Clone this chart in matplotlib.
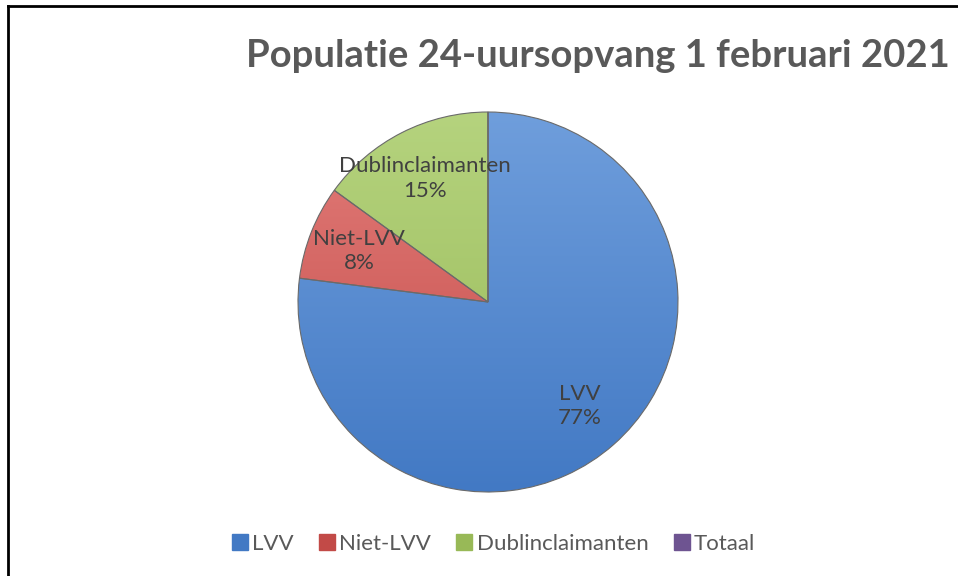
import numpy as np
import matplotlib.pyplot as plt
from matplotlib.colors import LinearSegmentedColormap
from matplotlib.lines import Line2D

# data
categories = ['LVV', 'Niet-LVV', 'Dublinclaimanten', 'Totaal']
shares = [77, 8, 15, 0]
top_colors = ['#6F9EDC', '#E37D7A', '#B5D37E', '#9A80BE']
bottom_colors = ['#4279C4', '#C24A47', '#98B957', '#6E5491']
title = 'Populatie 24-uursopvang 1 februari 2021'

plt.rcParams['font.family'] = ['Lato', 'DejaVu Sans']

fig = plt.figure(figsize=(9.58, 5.76), dpi=100)
ax = fig.add_axes([0, 0, 1, 1])
ax.set_xlim(0, 958)
ax.set_ylim(0, 576)
ax.set_aspect('equal')
ax.axis('off')

cx, cy, r = 488, 274, 190


def fmt(p):
    return '' if p < 0.5 else '%.0f%%' % p


wedges, texts, autotexts = ax.pie(
    shares, center=(cx, cy), radius=r, startangle=90, counterclock=False,
    colors=bottom_colors, autopct=fmt, pctdistance=0.73,
    wedgeprops=dict(linewidth=0.8, edgecolor='#6a6a6a'),
    textprops=dict(color='#404040', fontsize=16))
ax.set_xlim(0, 958)
ax.set_ylim(0, 576)

# gradient fill clipped to each wedge
grad = np.linspace(1, 0, 256).reshape(-1, 1)
for w, c0, c1 in zip(wedges, top_colors, bottom_colors):
    cmap = LinearSegmentedColormap.from_list('g', [c1, c0])
    im = ax.imshow(grad, cmap=cmap, extent=(cx - r, cx + r, cy - r, cy + r),
                   origin='upper', aspect='auto', zorder=w.get_zorder() + 0.1,
                   vmin=0, vmax=1)
    im.set_clip_path(w)
    w.set_facecolor('none')
    w.set_zorder(w.get_zorder() + 0.2)

for cat, t in zip(categories, autotexts):
    if t.get_text():
        t.set_text(cat + '\n' + t.get_text())
        t.set_linespacing(1.3)
        t.set_zorder(5)

# legend
handles = [Line2D([], [], marker='s', linestyle='none', markersize=11,
                  markerfacecolor=bottom_colors[i], markeredgecolor=bottom_colors[i])
           for i in range(len(categories))]
ax.legend(handles, categories, loc='center', bbox_to_anchor=(493 / 958, 1 - 544 / 576),
          ncol=4, frameon=False, fontsize=16, handletextpad=0.15,
          columnspacing=1.1, labelcolor='#595959', handlelength=0.8)

fig.text(598 / 958, 1 - 56 / 576, title, ha='center', va='center',
         fontsize=27.5, fontweight='bold', color='#595959')

# frame lines (top and left)
fig.add_artist(Line2D([7.5 / 958, 7.5 / 958], [0, 1 - 5.5 / 576], color='black', lw=2))
fig.add_artist(Line2D([7.5 / 958, 1], [1 - 5.5 / 576, 1 - 5.5 / 576], color='black', lw=2))

fig.savefig('out.png', dpi=100)
